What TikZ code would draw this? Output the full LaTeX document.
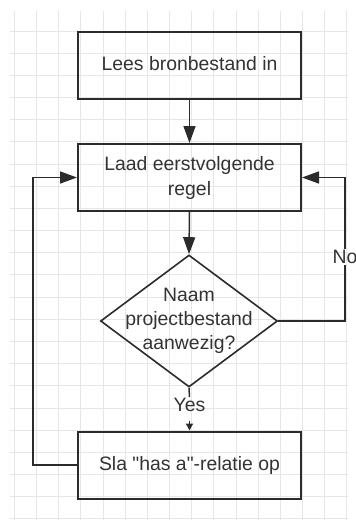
\documentclass[tikz,border=0pt]{standalone}
\usepackage{fontspec}
\setmainfont{Liberation Sans}
\usetikzlibrary{arrows.meta,shapes.geometric}
\definecolor{gridgray}{HTML}{E6E6E6}
\definecolor{ink}{HTML}{2B2B2B}
\definecolor{txt}{HTML}{333333}
\begin{document}
\begin{tikzpicture}[x=1pt,y=-1pt,
  procbox/.style={draw=ink,line width=2pt,minimum width=223pt,minimum height=67pt,
    inner sep=0pt,align=center,text=txt,font=\fontsize{19.4}{25}\selectfont},
  decision/.style={draw=ink,line width=1.6pt,diamond,minimum width=177pt,
    minimum height=132pt,inner sep=0pt},
  inside/.style={align=center,text=txt,inner sep=0pt,font=\fontsize{19.4}{24}\selectfont},
  flow/.style={draw=ink,line width=1.5pt},
  bigtip/.style={-{Triangle[length=17pt,width=12pt]}},
  smalltip/.style={-{Triangle[length=7pt,width=7pt]}},
  lbl/.style={text=txt,inner sep=1pt,font=\fontsize{19.4}{22}\selectfont}]
\useasboundingbox (0,0) rectangle (356,522);
% background grid
\begin{scope}
  \clip (10,11) rectangle (348,520);
  \foreach \k in {0,...,15}
    \draw[gridgray,line width=1pt] ({14.5+22.15*\k},11) -- ({14.5+22.15*\k},520);
  \foreach \k in {0,...,22}
    \draw[gridgray,line width=1pt] (10,{31+22.18*\k}) -- (348,{31+22.18*\k});
\end{scope}
% process steps
\node[procbox] (read) at (189.5,65.5) {\raisebox{4pt}{Lees bronbestand in}};
\node[procbox] (load) at (189.5,177.5) {Laad eerstvolgende\\regel};
\node[decision] (check) at (189,321) {};
\node[inside] (checktxt) at (189,321) {Naam\\projectbestand\\aanwezig?};
\node[procbox] (store) at (189.5,465) {\raisebox{2pt}{Sla \textquotedbl has a\textquotedbl -relatie op}};
% corner of the left return loop
\coordinate (lc) at (33,465);
% connectors
\draw[flow,bigtip] (read.south) -- (load.north);
\draw[flow,bigtip] (load.south) -- (check.north);
\node[lbl] (yes) at (189.5,405) {Yes};
\draw[flow] (check.south) -- (yes.north);
\draw[flow,smalltip,shorten <=8pt] (yes.south) -- (store.north);
\node[lbl] (no) at (345,257) {No};
\draw[flow] (check.east) -| (no.south);
\draw[flow,bigtip] (no.north) |- (load.east);
\draw[flow,bigtip] (store.west) -- (lc) |- (load.west);
\end{tikzpicture}
\end{document}
